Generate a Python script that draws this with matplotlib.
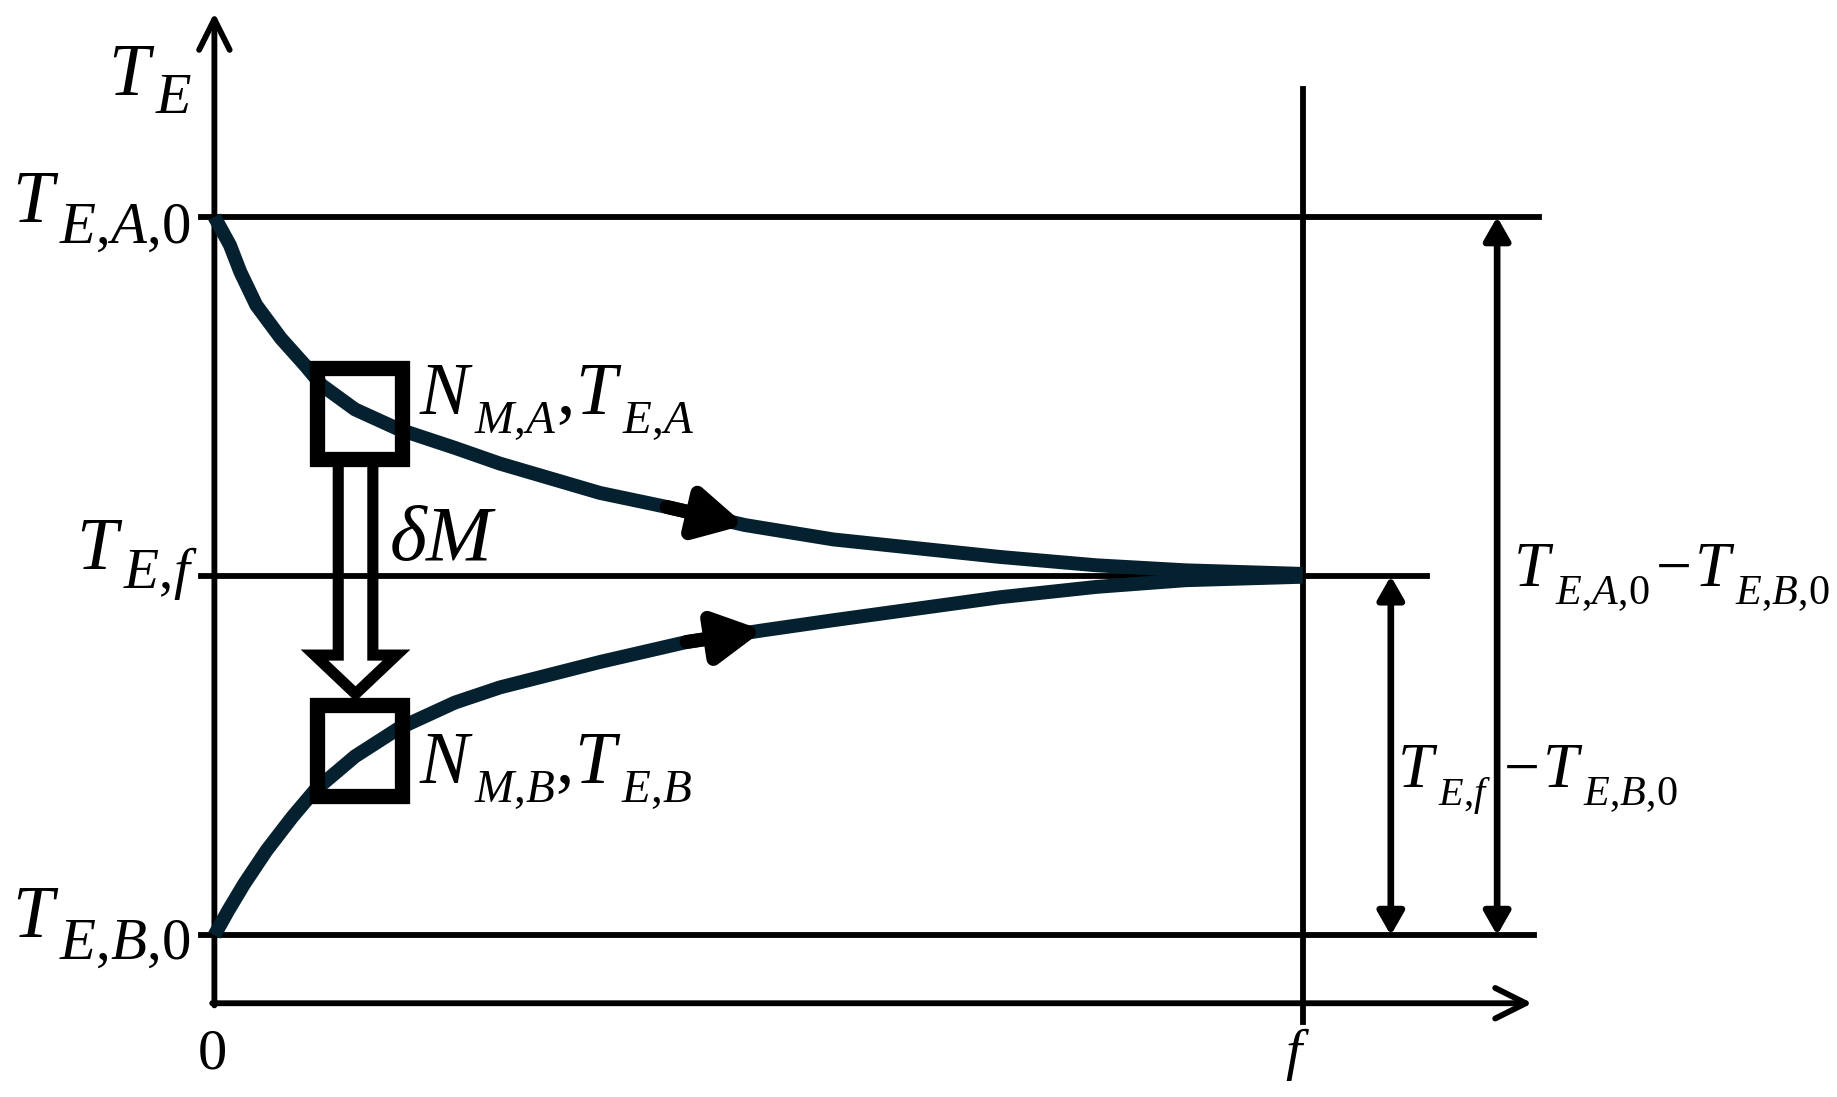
import matplotlib
matplotlib.use("Agg")
import matplotlib.pyplot as plt
from matplotlib.patches import Rectangle, FancyArrow

plt.rcParams['font.family'] = 'Liberation Serif'
plt.rcParams['mathtext.fontset'] = 'custom'
plt.rcParams['mathtext.rm'] = 'Liberation Serif'
plt.rcParams['mathtext.it'] = 'Liberation Serif:italic'
plt.rcParams['mathtext.bf'] = 'Liberation Serif:bold'

# levels (T_E,B,0 = 0, T_E,A,0 = 1) and end of mixing f = 1
t_a0 = 1.0
t_f = 0.5
t_b0 = 0.0
f_end = 1.0

# curve of reservoir A (falling)
xa = [0, 0.0143, 0.0238, 0.0385, 0.0612, 0.0832, 0.0986, 0.1292, 0.169, 0.221,
      0.2624, 0.3543, 0.4156, 0.4875, 0.5686, 0.7218, 0.8104, 0.8924, 1.0]
ya = [1.0, 0.9606, 0.9234, 0.877, 0.8307, 0.7935, 0.7657, 0.732, 0.7045, 0.6784,
      0.6565, 0.6157, 0.5962, 0.571, 0.551, 0.5266, 0.515, 0.508, 0.503]
# curve of reservoir B (rising)
xb = [0, 0.0128, 0.0275, 0.048, 0.0716, 0.0924, 0.1292, 0.169, 0.221, 0.2624,
      0.3543, 0.4339, 0.5043, 0.5686, 0.7218, 0.8104, 0.8924, 1.0]
yb = [0, 0.0347, 0.0718, 0.1182, 0.1646, 0.2018, 0.249, 0.2877, 0.3239, 0.345,
      0.3804, 0.4082, 0.4245, 0.4385, 0.4705, 0.4849, 0.4942, 0.499]
arrow_a = (12, 13)  # base / tip of the direction arrow on curve A
arrow_b = (11, 12)

curve_col = '#05202e'
lw_line = 4.2
lw_curve = 10

fig = plt.figure(figsize=(18.37, 10.97), dpi=100)
ax = fig.add_axes([0, 0, 1, 1])
ax.set_xlim(-0.197, 1.491)
ax.set_ylim(-0.2251, 1.3018)
ax.axis('off')

# axes of the sketch
y_axis_bottom = -0.0946
axis_head = dict(arrowstyle='->,head_length=22,head_width=11', mutation_scale=1,
                 lw=lw_line, color='black', shrinkA=0, shrinkB=0)
ax.annotate('', xy=(0, 1.284), xytext=(0, y_axis_bottom - 0.003), arrowprops=axis_head)
ax.annotate('', xy=(1.211, y_axis_bottom), xytext=(-0.002, y_axis_bottom), arrowprops=axis_head)

# level lines
ax.plot([-0.012, 1.217], [t_a0, t_a0], color='black', lw=lw_line)
ax.plot([-0.012, 1.1145], [t_f, t_f], color='black', lw=lw_line)
ax.plot([-0.012, 1.213], [t_b0, t_b0], color='black', lw=lw_line)
ax.plot([f_end, f_end], [-0.121, 1.178], color='black', lw=lw_line)

# curves
for xs, ys, (i0, i1) in ((xa, ya, arrow_a), (xb, yb, arrow_b)):
    ax.plot(xs, ys, color=curve_col, lw=lw_curve, solid_capstyle='butt',
            solid_joinstyle='round', zorder=3)
    ax.annotate('', xy=(xs[i1], ys[i1]), xytext=(xs[i0], ys[i0]),
                arrowprops=dict(arrowstyle='-|>,head_length=28,head_width=15', mutation_scale=1,
                                lw=lw_curve, color='black', shrinkA=0, shrinkB=0), zorder=4)

# mass elements
box_w, box_h = 0.0786, 0.1273
for cy in (0.726, 0.257):
    ax.add_patch(Rectangle((0.0942, cy - box_h / 2), box_w, box_h, fill=False,
                           ec='black', lw=11, joinstyle='miter', zorder=5))

# hollow transfer arrow dM
ax.add_patch(FancyArrow(0.1297, 0.6623, 0, 0.336 - 0.6623, width=0.0318,
                        head_width=0.0753, head_length=0.054, length_includes_head=True,
                        fc='none', ec='black', lw=8, joinstyle='miter', zorder=5))

# double arrows on the right
dbl = dict(arrowstyle='<|-|>,head_length=14,head_width=8', mutation_scale=1,
           lw=4.8, color='black', shrinkA=0, shrinkB=0)
ax.annotate('', xy=(1.081, t_b0), xytext=(1.081, t_f), arrowprops=dbl)
ax.annotate('', xy=(1.1787, t_b0), xytext=(1.1787, t_a0), arrowprops=dbl)


def chain(x, y, pieces, size):
    # pieces: (text, scale, drop in pt, gap in pt), laid out left to right
    prev = ax.text(x, y, pieces[0][0], fontsize=size * pieces[0][1], va='baseline', ha='left')
    for s, scale, drop, gap in pieces[1:]:
        prev = ax.annotate(s, xy=(1, y), xycoords=(prev, 'data'), xytext=(gap, -drop),
                           textcoords='offset points', fontsize=size * scale,
                           va='baseline', ha='left')


# labels on the left
chain(-0.098, 1.170, [('$T$', 1, 0, 0), ('$E$', 0.79, 13, 0)], 53)
chain(-0.1862, 0.9932, [('$T$', 1, 0, 0), ('$E$,$A$,0', 0.8, 15, 0)], 53)
chain(-0.127, 0.5101, [('$T$', 1, 0, 0), ('$E$,$f$', 0.78, 14, 0)], 53)
chain(-0.1862, -0.003, [('$T$', 1, 0, 0), ('$E$,$B$,0', 0.8, 15, 0)], 53)

ax.text(-0.002, -0.1858, '0', fontsize=42, ha='center', va='baseline')
ax.text(0.995, -0.1858, '$f$', fontsize=42, ha='center', va='baseline')

# labels at the mass elements
chain(0.188, 0.726, [('$N$', 1, 0, 0), ('$M$,$A$', 0.64, 14, 0), (',', 1, 0, 0),
                     ('$T$', 1, 0, 0), ('$E$,$A$', 0.64, 14, 0)], 53)
chain(0.188, 0.212, [('$N$', 1, 0, 0), ('$M$,$B$', 0.64, 14, 0), (',', 1, 0, 0),
                     ('$T$', 1, 0, 0), ('$E$,$B$', 0.64, 14, 0)], 53)
ax.text(0.160, 0.522, r'$\delta M$', fontsize=57, ha='left', va='baseline')

# labels of the differences
chain(1.1937, 0.486, [('$T$', 1, 0, 0), ('$E$,$A$,0', 0.66, 13, 0), ('$-$', 1, 0, 4),
                      ('$T$', 1, 0, 3), ('$E$,$B$,0', 0.66, 13, 0)], 46)
chain(1.0865, 0.2064, [('$T$', 1, 0, 0), ('$E$,$f$', 0.63, 13, 0)], 46)
chain(1.1841, 0.2064, [('$-$', 1, 0, 0), ('$T$', 1, 0, 3), ('$E$,$B$,0', 0.66, 13, 0)], 46)

fig.savefig('out.png', dpi=100)
